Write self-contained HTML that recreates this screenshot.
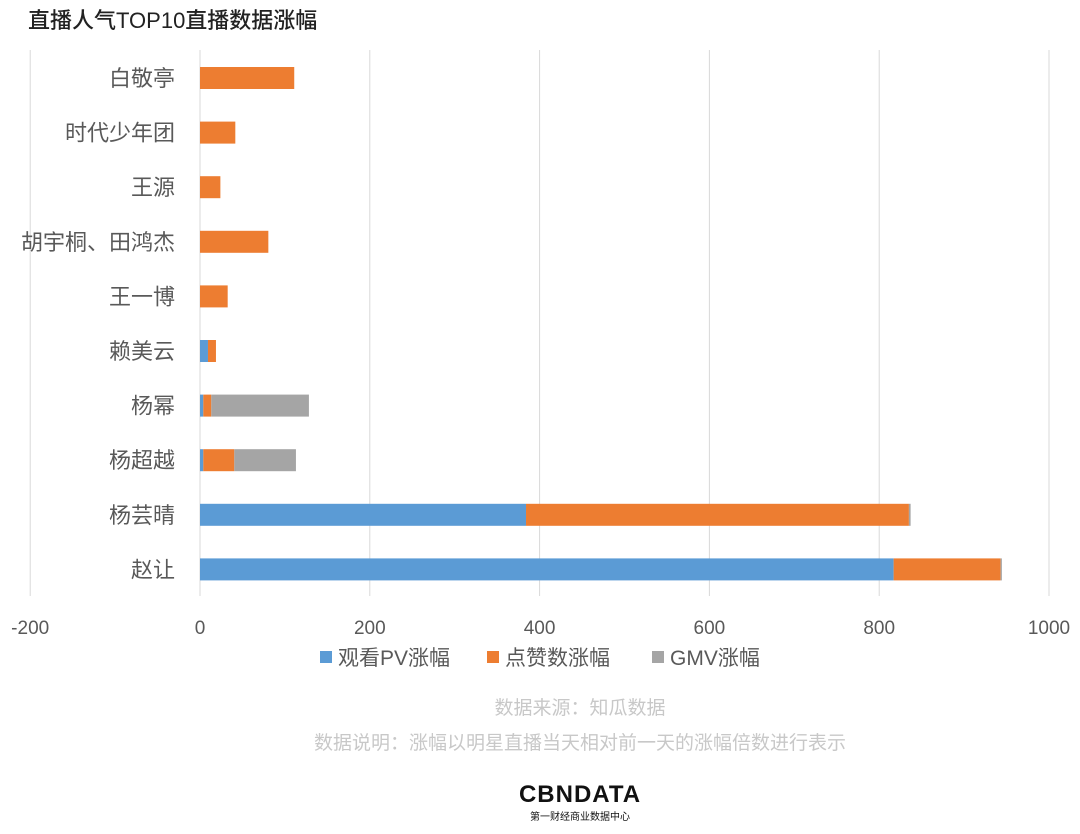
<!DOCTYPE html>
<html><head><meta charset="utf-8"><style>
body{margin:0;background:#fff;font-family:"Liberation Sans","Noto Sans CJK SC",sans-serif;}
#wrap{position:relative;width:1080px;height:834px;overflow:hidden;}
</style></head><body>
<div id="wrap">
<svg id="chart" width="1080" height="834"></svg>
</div>
<script>
const categories=["白敬亭","时代少年团","王源","胡宇桐、田鸿杰","王一博","赖美云","杨幂","杨超越","杨芸晴","赵让"];
const pvValues=[0,0,0,0,0,9.4,3.9,3.9,384,817];
const likeValues=[111,41.6,24,80.5,32.6,9.4,9.4,36.5,451,126];
const gmvValues=[0,0,0,0,0,0,115,72.6,2,1.5];
const xTicks=[-200,0,200,400,600,800,1000];
const seriesNames=["观看PV涨幅","点赞数涨幅","GMV涨幅"];
const colors=["#5b9bd5","#ed7d31","#a5a5a5"];
const svg=document.getElementById('chart');
const NS="http://www.w3.org/2000/svg";
function x(v){return 200+v*0.849;}
function y(i){return 78+i*54.6;}
function mk(t,a,txt){const e=document.createElementNS(NS,t);for(const k in a)e.setAttribute(k,a[k]);if(txt!==undefined)e.textContent=txt;svg.appendChild(e);return e;}
const F='"Liberation Sans","Noto Sans CJK SC",sans-serif';
let t=mk('text',{x:28,y:28,'font-size':22,'font-weight':500,fill:'#222','font-family':F},"直播人气TOP10直播数据涨幅");


xTicks.forEach(v=>{
 const l=mk('line',{x1:x(v),x2:x(v),y1:50,y2:596,stroke:'#d9d9d9','stroke-width':1});
 
 
 const tx=mk('text',{x:x(v),y:634,'text-anchor':'middle','font-size':19,fill:'#595959','font-family':F},String(v));
 
 
});
categories.forEach((c,i)=>{
 const tx=mk('text',{x:175,y:y(i)+8,'text-anchor':'end','font-size':22,fill:'#595959','font-family':F},c);
 
 
 let acc=0;
 [pvValues,likeValues,gmvValues].forEach((arr,s)=>{
  const v=arr[i];if(v<=0)return;
  const r=mk('rect',{x:x(acc),y:y(i)-11,width:x(acc+v)-x(acc),height:22,fill:colors[s]});
  
  
  acc+=v;
 });
});
const lx=[320,487,652];
seriesNames.forEach((n,s)=>{
 const r=mk('rect',{x:lx[s],y:651,width:12,height:12,fill:colors[s]});
 
 
 const tx=mk('text',{x:lx[s]+18,y:665,'font-size':21,fill:'#595959','font-family':F},n);
 
 
});
t=mk('text',{x:580,y:714,'text-anchor':'middle','font-size':19,fill:'#c8c8c8','font-family':F},"数据来源：知瓜数据");


t=mk('text',{x:580,y:749,'text-anchor':'middle','font-size':19,fill:'#c8c8c8','font-family':F},"数据说明：涨幅以明星直播当天相对前一天的涨幅倍数进行表示");


t=mk('text',{x:580,y:802,'text-anchor':'middle','font-size':24,'font-weight':'bold',fill:'#111','font-family':F,'letter-spacing':1},"CBNDATA");


t=mk('text',{x:580,y:820,'text-anchor':'middle','font-size':10,fill:'#111','font-family':F},"第一财经商业数据中心");


</script>
</body></html>
